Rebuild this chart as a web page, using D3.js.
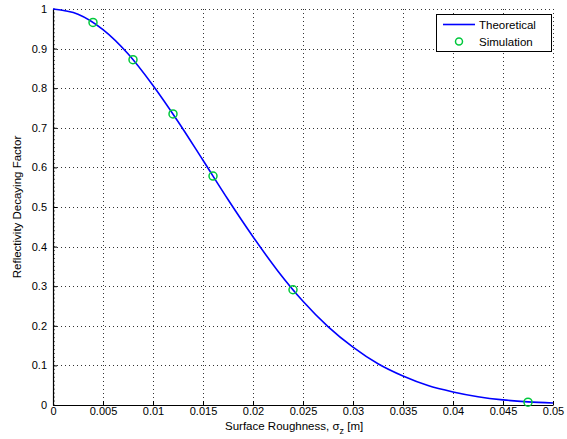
<!DOCTYPE html>
<html>
<head>
<style>
  body { margin: 0; background: #fff; }
  svg text { font-family: "Liberation Sans", Arial, sans-serif; fill: #000; }
</style>
</head>
<body>
<svg id="chart" width="567" height="439"></svg>
<script src="https://d3js.org/d3.v7.min.js"></script>
<script>
// theoretical curve, every 0.0025 m
var sigma = [0, 0.0025, 0.005, 0.0075, 0.01, 0.0125, 0.015, 0.0175, 0.02, 0.0225, 0.025,
             0.0275, 0.03, 0.0325, 0.035, 0.0375, 0.04, 0.0425, 0.045, 0.0475, 0.05];
var theory = [1, 0.987, 0.948, 0.887, 0.807, 0.716, 0.618, 0.519, 0.425, 0.338, 0.262,
              0.198, 0.146, 0.104, 0.073, 0.049, 0.033, 0.021, 0.013, 0.008, 0.005];
// simulation markers
var simSigma = [0.004, 0.008, 0.012, 0.016, 0.024, 0.0475];
var simValue = [0.966, 0.872, 0.735, 0.578, 0.291, 0.007];
var xTicks = [0, 0.005, 0.01, 0.015, 0.02, 0.025, 0.03, 0.035, 0.04, 0.045, 0.05];
var yTicks = [0, 0.1, 0.2, 0.3, 0.4, 0.5, 0.6, 0.7, 0.8, 0.9, 1];

var L = 53, R = 553, T = 9, B = 405;
var svg = d3.select("#chart");
var x = d3.scaleLinear().domain([0, 0.05]).range([L, R]);
var y = d3.scaleLinear().domain([0, 1]).range([B, T]);

// grid
var grid = svg.append("g").attr("stroke", "#333").attr("stroke-width", 1)
  .attr("stroke-dasharray", "1,3").attr("shape-rendering", "crispEdges");
grid.selectAll(".gx").data(xTicks.slice(1)).enter().append("line")
  .attr("x1", d => Math.round(x(d)) + 0.5).attr("x2", d => Math.round(x(d)) + 0.5)
  .attr("y1", T).attr("y2", B);
grid.selectAll(".gy").data(yTicks.slice(1)).enter().append("line")
  .attr("y1", d => Math.round(y(d)) + 0.5).attr("y2", d => Math.round(y(d)) + 0.5)
  .attr("x1", L).attr("x2", R);

// axes
var xAxis = d3.axisBottom(x).tickValues(xTicks).tickSizeInner(-4).tickSizeOuter(0).tickPadding(4)
  .tickFormat(d => d === 0 ? "0" : d3.format("")(+d.toFixed(3)));
var gx = svg.append("g").attr("transform", "translate(0," + B + ")").call(xAxis);
var yAxis = d3.axisLeft(y).tickValues(yTicks).tickSizeInner(-4).tickSizeOuter(0).tickPadding(6)
  .tickFormat(d => d === 0 ? "0" : d === 1 ? "1" : d3.format(".1f")(d));
var gy = svg.append("g").attr("transform", "translate(" + L + ",0)").call(yAxis);
// minor ticks on y axis
gy.selectAll(".minor").data(d3.range(0, 101).map(i => i / 100)).enter().append("line")
  .attr("x1", 0).attr("x2", 2).attr("y1", d => y(d)).attr("y2", d => y(d))
  .attr("stroke", "#000").attr("stroke-width", 0.6);
[gx, gy].forEach(g => {
  g.select(".domain").attr("stroke", "#000").attr("stroke-width", 1.2);
  g.selectAll(".tick line").attr("stroke", "#000");
  g.selectAll(".tick text").attr("font-size", 11).attr("font-family", "Liberation Sans, Arial, sans-serif");
});
gx.selectAll(".tick text").attr("dy", "0.55em");

// theoretical line
var line = d3.line().x((d, i) => x(sigma[i])).y(d => y(d)).curve(d3.curveMonotoneX);
svg.append("path").datum(theory).attr("d", line)
  .attr("fill", "none").attr("stroke", "#0000ff").attr("stroke-width", 1.6);

// simulation markers
svg.selectAll(".sim").data(simValue).enter().append("circle")
  .attr("cx", (d, i) => x(simSigma[i])).attr("cy", d => y(d)).attr("r", 4)
  .attr("fill", "none").attr("stroke", "#00c83c").attr("stroke-width", 1.5);

// axis labels
var xl = svg.append("text").attr("x", 225).attr("y", 430).attr("font-size", 11.5);
xl.append("tspan").text("Surface Roughness, σ");
xl.append("tspan").attr("dy", 4).attr("font-size", 9).text("z");
xl.append("tspan").attr("dy", -4).text(" [m]");
svg.append("text").attr("transform", "translate(21," + (T + B) / 2 + ") rotate(-90)")
  .attr("text-anchor", "middle").attr("font-size", 11.5).text("Reflectivity Decaying Factor");

// legend
var lg = svg.append("g");
lg.append("rect").attr("x", 436.5).attr("y", 14.5).attr("width", 115).attr("height", 37)
  .attr("fill", "#fff").attr("stroke", "#000").attr("stroke-width", 1);
lg.append("line").attr("x1", 443).attr("x2", 475).attr("y1", 24.5).attr("y2", 24.5)
  .attr("stroke", "#0000ff").attr("stroke-width", 1.6);
lg.append("circle").attr("cx", 459).attr("cy", 41.5).attr("r", 3.5)
  .attr("fill", "none").attr("stroke", "#00c83c").attr("stroke-width", 1.5);
lg.append("text").attr("x", 479).attr("y", 29).attr("font-size", 11.5).text("Theoretical");
lg.append("text").attr("x", 479).attr("y", 46).attr("font-size", 11.5).text("Simulation");
</script>
</body>
</html>
